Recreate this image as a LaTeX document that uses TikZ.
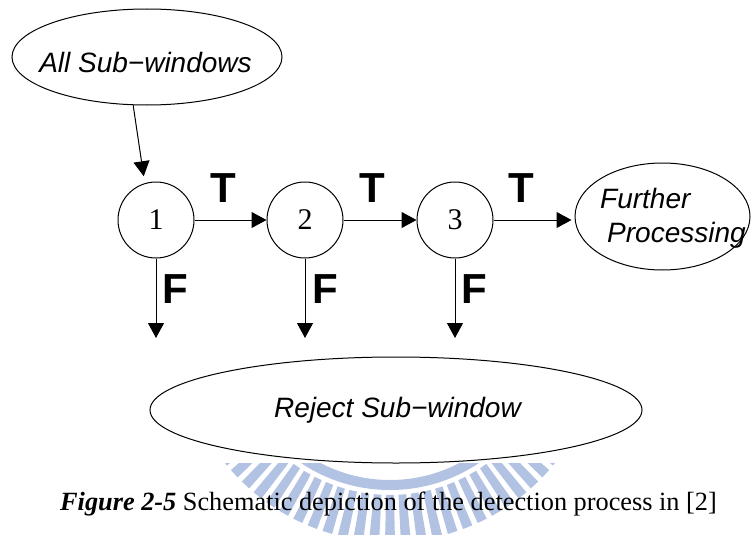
\documentclass[tikz,border=0pt]{standalone}
\usepackage{fontspec}
\setmainfont{Liberation Serif}
\newfontfamily\arial{Liberation Sans}
\usetikzlibrary{shapes.geometric,arrows.meta}
\definecolor{wm}{RGB}{178,194,226}
\begin{document}
\begin{tikzpicture}[x=1pt,y=-1pt,
  ell/.style={draw, ellipse, line width=1pt, fill=white, inner sep=0pt},
  stage/.style={draw, circle, line width=1pt, minimum size=76pt, inner sep=0pt, font=\fontsize{30}{32}\selectfont},
  lbl/.style={inner sep=0pt, font=\arial\itshape\fontsize{28}{30}\selectfont},
  tf/.style={inner sep=0pt, font=\arial\bfseries\fontsize{42}{44}\selectfont},
  arr/.style={line width=1pt, -{Triangle[length=15pt,width=16pt]}},
]
\useasboundingbox (0,0) rectangle (752,535);
% watermark
\begin{scope}
  \clip (0,463) rectangle (752,535);
  \fill[wm, even odd rule] (390,330) circle[radius=160pt] (390,330) circle[radius=150pt];
  \begin{scope}[shift={(390,330)}]
    \foreach \k in {-13,...,13} {
      \pgfmathsetmacro{\a}{270+4.3*\k}
      \fill[wm] (\a-1.35:165pt) -- (\a-1.35:212pt) -- (\a+1.35:212pt) -- (\a+1.35:165pt) -- cycle;
    }
  \end{scope}
\end{scope}
% ellipses
\node[ell, minimum width=270pt, minimum height=96pt] (asw) at (147,57) {};
\node[lbl, anchor=base] (aswt) at (145.5,72) {All Sub−windows};
\node[ell, minimum width=175pt, minimum height=107pt] (fp) at (662.5,216.5) {};
\node[lbl, anchor=base west] (fpt1) at (600,208) {Further};
\node[lbl, anchor=base west] (fpt2) at (607,242) {Processing};
\node[ell, minimum width=492pt, minimum height=106pt] (rej) at (396,410) {};
\node[lbl, anchor=base] (rejt) at (397.5,417) {Reject Sub−window};
% stages
\node[stage] (c1) at (156,220) {1};
\node[stage] (c2) at (305,220) {2};
\node[stage] (c3) at (455,220) {3};
% labels
\node[tf, anchor=base] (t1) at (223.5,202) {T};
\node[tf, anchor=base] (t2) at (372.5,202) {T};
\node[tf, anchor=base] (t3) at (521.5,202) {T};
\node[tf, anchor=base west] (f1) at (162,303) {F};
\node[tf, anchor=base west] (f2) at (312,303) {F};
\node[tf, anchor=base west] (f3) at (461,303) {F};
% connectors
\coordinate (d1) at (156,338);
\coordinate (d2) at (305,338);
\coordinate (d3) at (455,338);
\draw[arr, shorten >=7pt] (asw.254) -- (c1.107);
\draw[arr] (c1) -- (c2);
\draw[arr] (c2) -- (c3);
\draw[arr, shorten >=3pt] (c3.east) -- (c3.east -| fp.west);
\draw[arr] (c1) -- (d1);
\draw[arr] (c2) -- (d2);
\draw[arr] (c3) -- (d3);
% caption
\node[inner sep=0pt, anchor=base, font=\fontsize{26.3}{30}\selectfont] (cap) at (388.5,510)
  {\textbf{\textit{Figure 2-5}} Schematic depiction of the detection process in [2]};
\end{tikzpicture}
\end{document}
